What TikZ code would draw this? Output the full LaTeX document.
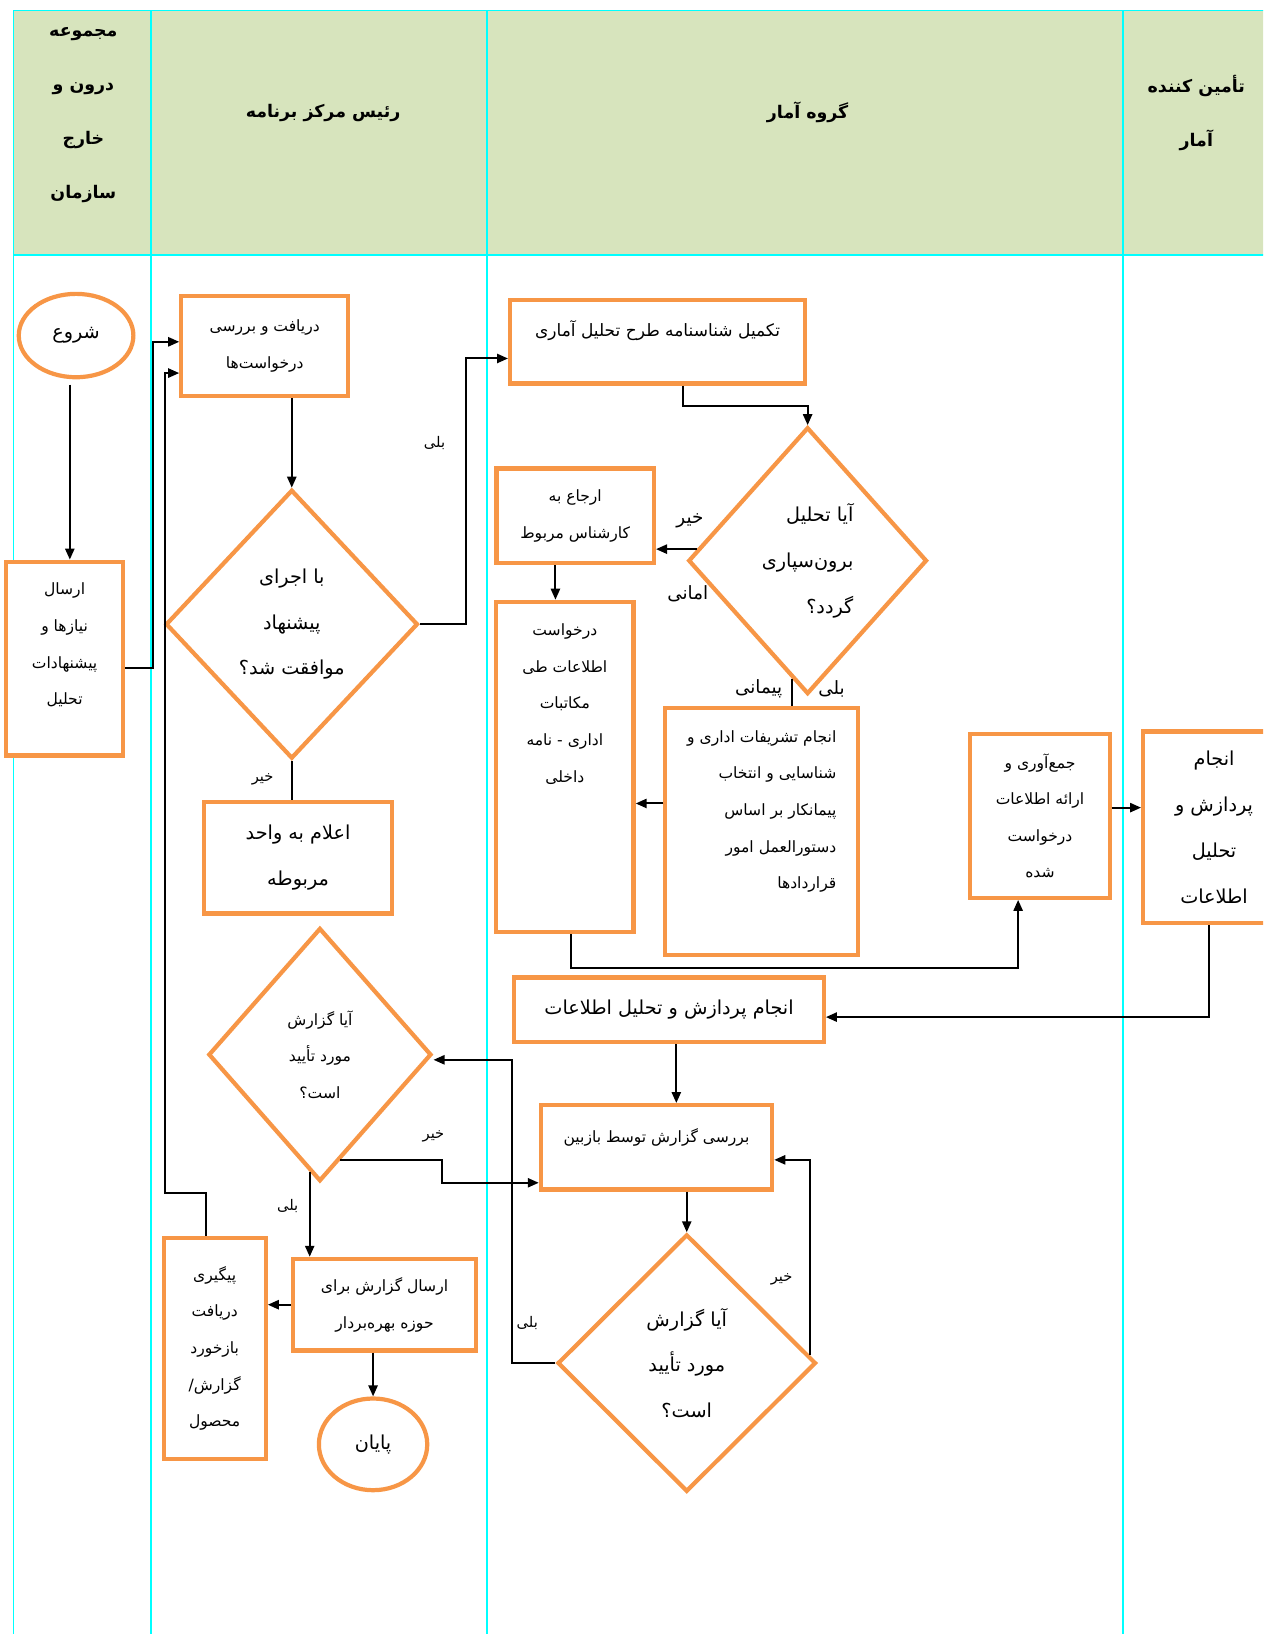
\documentclass[tikz,border=0pt]{standalone}
\usepackage{fontspec}
\usetikzlibrary{calc,shapes.geometric,arrows.meta}
\newfontfamily\persian[Script=Arabic]{DejaVu Sans}
\TeXXeTstate=1
\newcommand\rtext[1]{\beginR#1\endR}
\newcommand\pxu{0.02cm}
\definecolor{boxc}{HTML}{F79646}
\definecolor{headc}{HTML}{D7E4BD}
\definecolor{lanec}{HTML}{00FFFF}
\tikzset{
  lane/.style={draw=lanec, line width=1pt},
  box/.style={rectangle, draw=boxc, line width=2.3pt, fill=white, align=center, inner sep=1pt},
  dec/.style={diamond, draw=boxc, line width=2.3pt, fill=white, align=center, inner sep=0pt},
  term/.style={ellipse, draw=boxc, line width=2.3pt, fill=white, inner sep=0pt},
  wh/.style 2 args={minimum width=#1*\pxu, minimum height=#2*\pxu},
  flow/.style={draw=black, line width=1.1pt, -{Triangle[length=6pt,width=5pt]}},
  link/.style={draw=black, line width=1.1pt},
  txs/.style={font=\persian\fontsize{8.5}{20}\selectfont},
  txm/.style={font=\persian\fontsize{9.3}{20}\selectfont},
  txl/.style={font=\persian\fontsize{10.5}{25}\selectfont},
  hd/.style={font=\persian\bfseries\fontsize{9.5}{29.5}\selectfont, align=center},
  lab/.style={font=\persian\fontsize{8}{10}\selectfont, inner sep=1pt},
  labl/.style={font=\persian\fontsize{10}{12}\selectfont, inner sep=1pt},
}
\begin{document}
\begin{tikzpicture}[x=0.02cm, y=-0.02cm]
  \useasboundingbox (0,0) rectangle (1212,1568);
  \clip (0,0) rectangle (1212,1568);

  % swimlanes
  \fill[headc] (13,10) rectangle (1230,245);
  \draw[lane] (13,10) -- (1230,10);
  \draw[lane] (13,245) -- (1230,245);
  \foreach \lx in {13,145,467,1078}
    \draw[lane] (\lx,10) -- (\lx,1580);
  \node[hd] (hdOrg) at (80,110) {\rtext{مجموعه}\\ \rtext{درون و}\\ \rtext{خارج}\\ \rtext{سازمان}};
  \node[hd] (hdHead) at (310,108) {\rtext{رئیس مرکز برنامه}};
  \node[hd] (hdStat) at (775,108) {\rtext{گروه آمار}};
  \node[hd] (hdSup) at (1148,108) {\rtext{تأمین کننده}\\ \rtext{آمار}};

  % left lanes
  \node[term,txl,wh={110}{80}] (start) at (73,322) {\rtext{شروع}};
  \node[box,txs,wh={112}{186}] (send) at (62,632) {\rtext{ارسال}\\ \rtext{نیازها و}\\ \rtext{پیشنهادات}\\ \rtext{تحلیل}\\[-4pt]\mbox{}};
  \node[box,txs,wh={160}{96}] (recv) at (254,332) {\rtext{دریافت و بررسی}\\ \rtext{درخواست‌ها}};
  \node[dec,txl,wh={242}{258}] (agree) at (280,599) {\rtext{با اجرای}\\ \rtext{پیشنهاد}\\ \rtext{موافقت شد؟}};
  \node[box,txl,wh={180}{107}] (notify) at (286,823) {\rtext{اعلام به واحد}\\ \rtext{مربوطه}};
  \node[dec,txs,wh={214}{243}] (check) at (307,1012) {\rtext{آیا گزارش}\\ \rtext{مورد تأیید}\\ \rtext{است؟}};
  \node[box,txs,wh={176}{88}] (sendrep) at (369,1252) {\rtext{ارسال گزارش برای}\\ \rtext{حوزه بهره‌بردار}};
  \node[box,txs,wh={98}{212}] (follow) at (206,1294) {\rtext{پیگیری}\\ \rtext{دریافت}\\ \rtext{بازخورد}\\ \rtext{گزارش/}\\ \rtext{محصول}};
  \node[term,txl,wh={104}{88}] (stop) at (358,1386) {\rtext{پایان}};

  % statistics lane
  \node[box,txm,wh={283}{80}] (form) at (631,328) {\rtext{تکمیل شناسنامه طرح تحلیل آماری}\\[-6pt]\mbox{}};
  \node[dec,txl,wh={229}{256},align=right] (outs) at (775,538) {\rtext{آیا تحلیل}\\ \rtext{برون‌سپاری}\\ \rtext{گردد؟}};
  \node[box,txs,wh={151}{91}] (refer) at (552,495) {\rtext{ارجاع به}\\ \rtext{کارشناس مربوط}};
  \node[box,txs,wh={132}{317}] (reqinfo) at (542,736) {\rtext{درخواست}\\ \rtext{اطلاعات طی}\\ \rtext{مکاتبات}\\ \rtext{اداری - نامه}\\ \rtext{داخلی}\\[50pt]\mbox{}};
  \node[box,txs,wh={185}{237},align=right] (contract) at (731,798) {\rtext{انجام تشریفات اداری و}\\ \rtext{شناسایی و انتخاب}\\ \rtext{پیمانکار بر اساس}\\ \rtext{دستورالعمل امور}\\ \rtext{قراردادها}\\[4pt]\mbox{}};
  \node[box,txs,wh={134}{157}] (collect) at (998,783) {\rtext{جمع‌آوری و}\\ \rtext{ارائه اطلاعات}\\ \rtext{درخواست}\\ \rtext{شده}};
  \node[box,txl,wh={136}{184}] (proc) at (1165,794) {\rtext{انجام}\\ \rtext{پردازش و}\\ \rtext{تحلیل}\\ \rtext{اطلاعات}};
  \node[box,txl,wh={297}{62}] (anal) at (642,969) {\rtext{انجام پردازش و تحلیل اطلاعات}};
  \node[box,txs,wh={222}{81}] (review) at (630,1101) {\rtext{بررسی گزارش توسط بازبین}\\[-7pt]\mbox{}};
  \node[dec,txl,wh={248}{247}] (final) at (659,1308) {\rtext{آیا گزارش}\\ \rtext{مورد تأیید}\\ \rtext{است؟}};

  % connectors
  \coordinate (fbTurn) at (158,1145);
  \coordinate (noTurn) at (424,1113);
  \coordinate (startOut) at ($(start.south)+(-6,5)$);
  \coordinate (outsNo) at ($(outs.west)!0.085!(outs.north)$);
  \coordinate (referOut) at ($(refer.south)+(-19,0)$);
  \coordinate (outsYes) at ($(outs.south)!0.13!(outs.west)$);
  \coordinate (contractOut) at ($(contract.west)+(0,-27)$);
  \coordinate (collectOut) at ($(collect.east)+(0,-8)$);
  \coordinate (analOut) at ($(anal.south)+(7,0)$);
  \coordinate (checkYes) at ($(check.south)!0.09!(check.west)$);
  \coordinate (checkNo) at ($(check.east)!0.82!(check.south)$);
  \draw[flow] (startOut) -- (startOut |- send.north);
  \draw[flow] ($(send.east)+(0,9)$) -- ++(27,0) |- ($(recv.west)+(0,-4)$);
  \draw[flow] ($(follow.north)+(-8,0)$) |- (fbTurn) |- ($(recv.west)+(0,26)$);
  \draw[flow] (recv.south -| agree.north) -- (agree.north);
  \draw[flow] (agree.east) -- ++(44,0) |- ($(form.west)+(0,16)$);
  \draw[link] (agree.south) -- (agree.south |- notify.north);
  \draw[flow] ($(form.south)+(24,0)$) -- ++(0,20) -| (outs.north);
  \draw[flow] (outsNo) -- (outsNo -| refer.east);
  \draw[flow] (referOut) -- (referOut |- reqinfo.north);
  \draw[link] (outsYes) -- (outsYes |- contract.north);
  \draw[flow] (contractOut) -- (contractOut -| reqinfo.east);
  \draw[flow] ($(reqinfo.south)+(6,0)$) -- ++(0,32) -| ($(collect.south)+(-21,0)$);
  \draw[flow] (collectOut) -- (collectOut -| proc.west);
  \draw[flow] ($(proc.south)+(-5,0)$) |- ($(anal.east)+(0,7)$);
  \draw[flow] (analOut) -- (analOut |- review.north);
  \draw[flow] (review.south -| final.north) -- (final.north);
  \draw[flow] ($(final.east)!0.065!(final.north)$) |- ($(review.east)+(0,12)$);
  \draw[flow] (final.west) -- ++(-42,0) |- ($(check.east)+(0,5)$);
  \draw[flow] (checkNo) -- (checkNo -| noTurn) |- ($(review.west)+(0,34)$);
  \draw[flow] (checkYes) -- (checkYes |- sendrep.north);
  \draw[flow] (sendrep.west) -- (sendrep.west -| follow.east);
  \draw[flow] (stop.north |- sendrep.south) -- (stop.north);

  % branch labels
  \node[lab] (yesAgree) at (417,425) {\rtext{بلی}};
  \node[lab] (noAgree) at (252,748) {\rtext{خیر}};
  \node[labl] (noOuts) at (662,500) {\rtext{خیر}};
  \node[labl] (amaniOuts) at (660,570) {\rtext{امانی}};
  \node[labl] (peymOuts) at (728,661) {\rtext{پیمانی}};
  \node[labl] (yesOuts) at (798,661) {\rtext{بلی}};
  \node[lab] (noCheck) at (416,1090) {\rtext{خیر}};
  \node[lab] (yesCheck) at (276,1157) {\rtext{بلی}};
  \node[lab] (noFinal) at (750,1228) {\rtext{خیر}};
  \node[lab] (yesFinal) at (506,1270) {\rtext{بلی}};
\end{tikzpicture}
\end{document}
